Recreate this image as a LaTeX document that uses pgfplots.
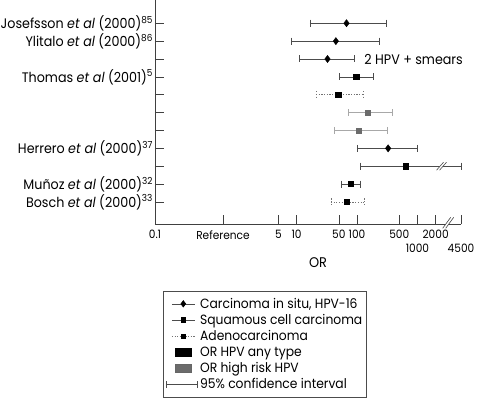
\documentclass[border=0pt]{standalone}
\usepackage{pgfplots}
\pgfplotsset{compat=1.18}
\usepackage{fontspec}
\setmainfont[FakeStretch=0.92]{Poppins}
\definecolor{cil}{gray}{0.3}
\definecolor{gmk}{gray}{0.42}
\definecolor{gci}{gray}{0.66}
\definecolor{dci}{gray}{0.45}
\begin{document}
\begin{tikzpicture}
\useasboundingbox (-155pt,-175.7pt) rectangle (323pt,224.3pt);
\begin{axis}[
  scale only axis, width=306pt, height=224.3pt,
  xmode=log, log basis x=10,
  xmin=0.0455, xmax=5250, ymin=-0.25, ymax=12.3,
  axis lines*=left,
  axis line style={black!75, line width=0.6pt},
  tick align=inside,
  major tick length=9pt,
  tick style={black!75, line width=0.6pt},
  xtick={0.0455,0.605,5,10,50,100,500,2000},
  xticklabels={0.1,Reference,5,10,50,100,500,2000},
  extra x ticks={1000,5250},
  extra x tick labels={1000,4500},
  extra x tick style={xticklabel style={yshift=-14pt}},
  minor xtick={},
  ytick={1,2,3,4,5,6,7,8,9,10,11},
  yticklabels={
    Bosch \textit{et al} (2000)\textsuperscript{33},
    Muñoz \textit{et al} (2000)\textsuperscript{32},
    {},
    Herrero \textit{et al} (2000)\textsuperscript{37},
    {},{},{},
    Thomas \textit{et al} (2001)\textsuperscript{5},
    {},
    Ylitalo \textit{et al} (2000)\textsuperscript{86},
    Josefsson \textit{et al} (2000)\textsuperscript{85}},
  yticklabel style={font=\fontsize{13.8}{16}\selectfont, xshift=1.5pt},
  xticklabel style={font=\fontsize{11.5}{13}\selectfont, yshift=-2.5pt},
  /pgf/number format/assume math mode=true,
  clip=false,
  legend style={at={(axis description cs:0.027,-0.296)}, anchor=north west,
    draw=black!70, line width=0.5pt, font=\fontsize{13.4}{16}\selectfont,
    row sep=0.6pt, inner xsep=2pt, inner ysep=5pt},
  legend cell align=left,
  legend image code/.code={\path (0pt,0pt) (32pt,0pt); \draw[mark repeat=2,mark phase=2,#1] plot coordinates {(6pt,0pt) (17.5pt,0pt) (29pt,0pt)};},
]
% --- legend entries ---
\addlegendimage{cil, line width=0.6pt, mark=diamond*, mark size=3.2pt, mark options={black}}
\addlegendentry{Carcinoma in situ, HPV-16}
\addlegendimage{cil, line width=0.6pt, mark=square*, mark size=2.4pt, mark options={black}}
\addlegendentry{Squamous cell carcinoma}
\addlegendimage{dci, line width=0.6pt, dash pattern=on 1.2pt off 1.5pt, mark=square*, mark size=2.4pt, mark options={black,solid}}
\addlegendentry{Adenocarcinoma}
\addlegendimage{legend image code/.code={\path (0pt,0pt) (32pt,0pt); \fill[black] (9.5pt,-4pt) rectangle (25pt,4pt);}}
\addlegendentry{OR HPV any type}
\addlegendimage{legend image code/.code={\path (0pt,0pt) (32pt,0pt); \fill[gmk] (9.5pt,-4pt) rectangle (25pt,4pt); \draw[black!60] (9.5pt,-4pt) rectangle (25pt,4pt);}}
\addlegendentry{OR high risk HPV}
\addlegendimage{legend image code/.code={\path (0pt,0pt) (32pt,0pt); \draw[cil, line width=0.6pt] (0pt,0pt) -- (31pt,0pt); \draw[cil, line width=0.6pt] (0pt,-3.5pt) -- (0pt,3.5pt); \draw[cil, line width=0.6pt] (31pt,-3.5pt) -- (31pt,3.5pt);}}
\addlegendentry{95\% confidence interval}

\pgfplotsset{
  ci/.style={cil, line width=0.6pt, mark=|, mark size=3.5pt, mark options={solid}, forget plot},
  cidot/.style={dci, line width=0.6pt, dash pattern=on 1.2pt off 1.5pt, mark=|, mark size=3.5pt, forget plot},
  cigray/.style={gci, line width=0.6pt, mark=|, mark size=3.5pt, forget plot},
}
% confidence intervals
\addplot[ci] coordinates {(16.6,11) (303,11)};
\addplot[ci] coordinates {(8.3,10) (232,10)};
\addplot[ci] coordinates {(11.2,9) (89.6,9)};
\addplot[ci] coordinates {(51.3,8) (187,8)};
\addplot[cidot] coordinates {(20.9,7) (125,7)};
\addplot[cigray] coordinates {(71.3,6) (386,6)};
\addplot[cigray] coordinates {(41.9,5) (315,5)};
\addplot[ci] coordinates {(99.3,4) (984,4)};
\addplot[ci] coordinates {(113,3) (5250,3)};
\addplot[ci] coordinates {(55.5,2) (113,2)};
\addplot[cidot] coordinates {(36.9,1) (133,1)};
% point estimates
\addplot[only marks, mark=diamond*, mark size=3.6pt, black, forget plot]
  coordinates {(67,11) (44.7,10) (32.5,9) (327,4)};
\addplot[only marks, mark=square*, mark size=2.6pt, black, forget plot]
  coordinates {(96.6,8) (48.8,7) (641,3) (79,2) (68.5,1)};
\addplot[only marks, mark=square*, mark size=2.6pt, gmk, forget plot]
  coordinates {(149,6) (106,5)};

% axis breaks
\coordinate (b1) at (axis cs:2500,3);
\fill[white] ([shift={(-5pt,-4pt)}]b1) -- ([shift={(-2pt,-4pt)}]b1) -- ([shift={(5pt,4pt)}]b1) -- ([shift={(2pt,4pt)}]b1) -- cycle;
\draw[cil, line width=0.6pt] ([shift={(-5pt,-4pt)}]b1) -- ([shift={(2pt,4pt)}]b1);
\draw[cil, line width=0.6pt] ([shift={(-2pt,-4pt)}]b1) -- ([shift={(5pt,4pt)}]b1);
\coordinate (b2) at (axis cs:3162,-0.25);
\fill[white] ([shift={(-5pt,-4pt)}]b2) -- ([shift={(-2pt,-4pt)}]b2) -- ([shift={(6pt,7pt)}]b2) -- ([shift={(3pt,7pt)}]b2) -- cycle;
\draw[black!75, line width=0.6pt] ([shift={(-5pt,-4pt)}]b2) -- ([shift={(3pt,7pt)}]b2);
\draw[black!75, line width=0.6pt] ([shift={(-2pt,-4pt)}]b2) -- ([shift={(6pt,7pt)}]b2);

\node[anchor=west, font=\fontsize{13.8}{16}\selectfont] at (axis cs:116,9) {2 HPV + smears};
\node[font=\fontsize{14}{16}\selectfont] at (axis description cs:0.533,-0.173) {OR};
\end{axis}
\end{tikzpicture}
\end{document}
